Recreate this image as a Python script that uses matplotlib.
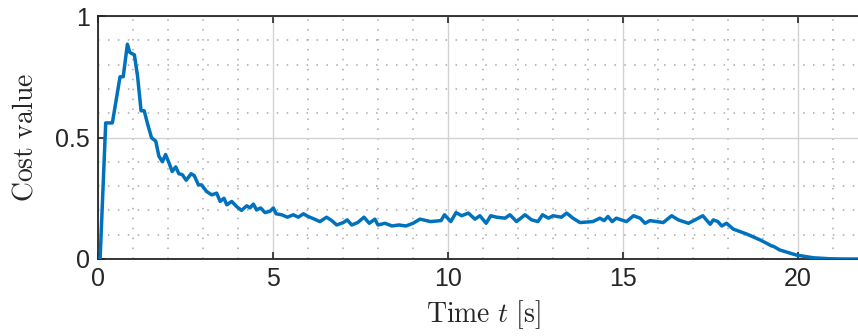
import matplotlib
matplotlib.use('Agg')
import matplotlib.pyplot as plt
from matplotlib.ticker import MultipleLocator

# values (time in s, cost value)
time_s = [0.0, 0.06, 0.22, 0.41, 0.63, 0.72, 0.84, 0.91, 1.04, 1.13, 1.23, 1.32, 1.42,
          1.53, 1.65, 1.74, 1.84, 1.93, 2.03, 2.12, 2.22, 2.31, 2.41, 2.52, 2.66,
          2.75, 2.87, 2.96, 3.1, 3.25, 3.39, 3.49, 3.6, 3.68, 3.82, 3.96, 4.1,
          4.25, 4.34, 4.44, 4.53, 4.65, 4.77, 4.91, 5.01, 5.09, 5.25, 5.41, 5.58,
          5.72, 5.87, 6.0, 6.17, 6.34, 6.53, 6.68, 6.82, 7.01, 7.12, 7.25, 7.42,
          7.6, 7.75, 7.91, 8.0, 8.2, 8.4, 8.6, 8.8, 9.0, 9.2, 9.5, 9.8, 9.9,
          10.08, 10.23, 10.39, 10.58, 10.77, 10.91, 11.09, 11.22, 11.39, 11.63,
          11.77, 11.96, 12.2, 12.39, 12.57, 12.7, 12.87, 13.0, 13.24, 13.39,
          13.57, 13.77, 14.14, 14.34, 14.46, 14.57, 14.69, 14.81, 14.95, 15.1,
          15.3, 15.49, 15.63, 15.77, 16.15, 16.39, 16.58, 16.87, 17.06, 17.28,
          17.49, 17.58, 17.71, 17.82, 17.96, 18.15, 18.53, 18.91, 19.1, 19.24,
          19.3, 19.48, 19.96, 20.44, 20.9, 21.3, 22.0]
cost = [0.0, 0.0, 0.56, 0.56, 0.75, 0.75, 0.884, 0.85, 0.84, 0.753, 0.61, 0.61, 0.554,
        0.499, 0.485, 0.423, 0.40, 0.43, 0.395, 0.36, 0.379, 0.351, 0.347, 0.324, 0.351,
        0.343, 0.305, 0.305, 0.278, 0.264, 0.271, 0.237, 0.25, 0.223, 0.237, 0.216, 0.2,
        0.219, 0.21, 0.226, 0.202, 0.21, 0.191, 0.196, 0.21, 0.186, 0.182, 0.172, 0.182,
        0.172, 0.186, 0.175, 0.165, 0.154, 0.172, 0.158, 0.14, 0.15, 0.161, 0.14, 0.15,
        0.172, 0.147, 0.164, 0.14, 0.147, 0.136, 0.14, 0.136, 0.147, 0.164, 0.154, 0.158, 0.182,
        0.154, 0.191, 0.178, 0.189, 0.164, 0.178, 0.147, 0.178, 0.172, 0.168,
        0.182, 0.154, 0.182, 0.161, 0.154, 0.182, 0.168, 0.178, 0.172, 0.189,
        0.168, 0.150, 0.154, 0.168, 0.158, 0.175, 0.154, 0.168, 0.161, 0.154,
        0.178, 0.168, 0.147, 0.158, 0.150, 0.178, 0.161, 0.147, 0.161, 0.178,
        0.143, 0.161, 0.154, 0.136, 0.147, 0.123, 0.103, 0.079, 0.065, 0.054,
        0.052, 0.037, 0.016, 0.005, 0.001, 0.0, 0.0]

x_ticks = [0, 5, 10, 15, 20]
y_ticks = [0, 0.5, 1]
y_ticklabels = ['0', '0.5', '1']

plt.rcParams['mathtext.fontset'] = 'cm'
plt.rcParams['font.family'] = ['Liberation Sans', 'DejaVu Sans']

fig = plt.figure(figsize=(8.58, 3.36), dpi=100)
# axes runs past the right edge, as in the reference
ax = fig.add_axes([98/858, 77/336, 770/858, 243/336])

ax.plot(time_s, cost, color='#0072BD', lw=2.5, zorder=3)

ax.set_xlim(0, 22)
ax.set_ylim(0, 1)
ax.set_xticks(x_ticks)
ax.set_yticks(y_ticks)
ax.set_yticklabels(y_ticklabels)
ax.xaxis.set_minor_locator(MultipleLocator(1))
ax.yaxis.set_minor_locator(MultipleLocator(0.1))

ax.grid(which='major', color='#d2d2d2', lw=1.0, ls='-')
ax.grid(which='minor', color='#a8a8a8', lw=1.1, ls=(0, (1, 5.5)))
ax.set_axisbelow(True)

ax.tick_params(which='major', direction='in', length=5, width=1.2, top=True, right=True,
               labelsize=18, colors='#262626', pad=6)
ax.tick_params(which='minor', length=0)
for s in ax.spines.values():
    s.set_color('#262626')
    s.set_linewidth(1.3)

ax.set_xlabel(r'$\mathrm{Time}\ t\ [\mathrm{s}]$', fontsize=20, color='#262626', labelpad=5)
ax.set_ylabel(r'$\mathrm{Cost\ value}$', fontsize=20, color='#262626', labelpad=12)

plt.savefig('out.png', dpi=100)
